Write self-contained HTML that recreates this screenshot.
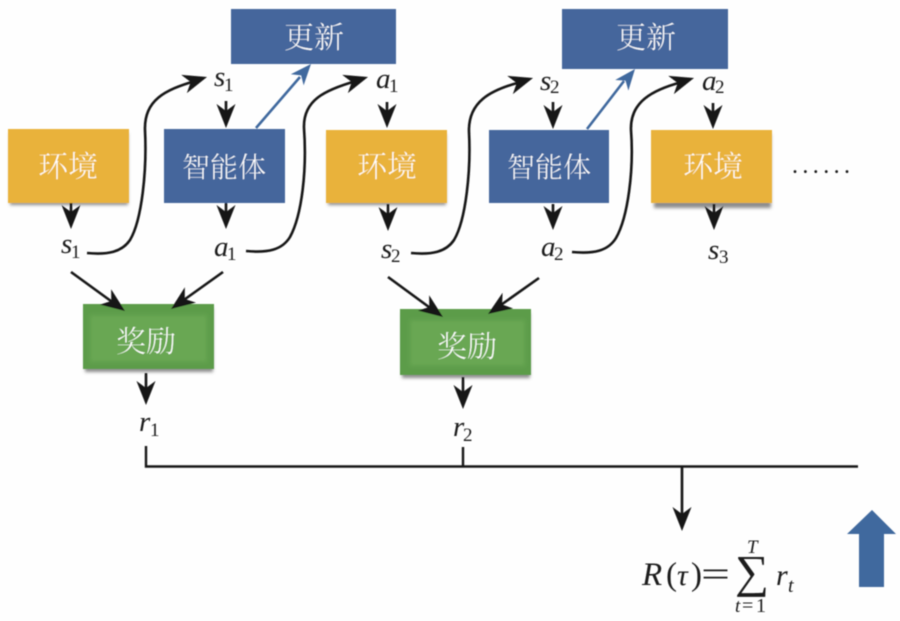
<!DOCTYPE html>
<html><head><meta charset="utf-8">
<style>
html,body{margin:0;padding:0;background:#fefefe;width:900px;height:621px;overflow:hidden}
svg{display:block}
text{font-family:"Liberation Serif","Times New Roman","DejaVu Serif",serif}
.c{font-family:"Noto Serif CJK SC","Noto Serif CJK JP","Liberation Serif",serif;font-weight:300;fill:#ffffff;text-anchor:middle;stroke-width:.2}
.m{font-family:"Liberation Serif","Times New Roman","DejaVu Serif",serif;font-style:italic;font-size:29px;fill:#1a1a1a}
.s{font-family:"Liberation Serif","Times New Roman","DejaVu Serif",serif;font-size:19px;fill:#1a1a1a}
.r{font-family:"Liberation Serif","Times New Roman","DejaVu Serif",serif;fill:#1a1a1a}
.k{stroke:#161616;stroke-width:2.6;fill:none}
.b{stroke:#41699e;stroke-width:2.6;fill:none}
</style></head>
<body>
<svg width="900" height="621" viewBox="0 0 900 621" xmlns="http://www.w3.org/2000/svg">
<defs>
<filter id="bl" x="-5%" y="-5%" width="110%" height="110%"><feGaussianBlur stdDeviation="0.5"/></filter>
<filter id="sh" x="-10%" y="-10%" width="120%" height="130%"><feGaussianBlur stdDeviation="1.6"/></filter>
<filter id="in" x="-20%" y="-20%" width="140%" height="140%"><feGaussianBlur stdDeviation="2"/></filter>
<polygon id="h" points="0,0 -24,-9.5 -17,0 -24,9.5" fill="#121212"/>
<polygon id="hb" points="0,0 -21,-8.5 -15,0 -21,8.5" fill="#41699e"/>
</defs>
<rect width="900" height="621" fill="#fefefe"/>
<g filter="url(#bl)">
<!-- shadows -->
<g fill="#8c8c8c" filter="url(#sh)">
<rect x="10" y="133" width="118" height="72"/>
<rect x="328" y="134" width="118" height="71"/>
<rect x="654" y="134" width="117" height="74"/>
<rect x="85" y="308" width="128" height="64"/>
<rect x="402" y="313" width="128" height="65"/>
</g>
<!-- boxes -->
<g fill="#e9b23b">
<rect x="8" y="129" width="121" height="74"/>
<rect x="326" y="130" width="121" height="73"/>
<rect x="651" y="130" width="121" height="73"/>
</g>
<g fill="#44669c">
<rect x="164" y="129" width="121" height="74"/>
<rect x="489" y="130" width="120" height="73"/>
<rect x="231" y="9" width="165" height="55"/>
<rect x="562" y="9" width="166" height="60"/>
</g>
<g fill="#5c9c4a">
<rect x="83" y="304" width="131" height="65"/>
<rect x="400" y="309" width="131" height="66"/>
</g>
<g fill="#69a753" filter="url(#in)">
<rect x="90" y="315" width="117" height="47"/>
<rect x="410" y="320" width="115" height="46"/>
</g>
<!-- box labels -->
<g font-size="30">
<text class="c" stroke="#e9b23b" x="68" y="177">环境</text>
<text class="c" stroke="#e9b23b" x="387" y="177">环境</text>
<text class="c" stroke="#e9b23b" x="713" y="177">环境</text>
<text class="c" stroke="#44669c" x="314" y="48">更新</text>
<text class="c" stroke="#44669c" x="646" y="48">更新</text>
<text class="c" stroke="#69a753" x="146" y="352">奖励</text>
<text class="c" stroke="#69a753" x="467" y="357">奖励</text>
</g>
<g font-size="28">
<text class="c" stroke="#44669c" x="224" y="177">智能体</text>
<text class="c" stroke="#44669c" x="549" y="177">智能体</text>
</g>
<!-- straight down arrows -->
<path class="k" d="M226 101V116M387 102V116M71 203V217M226 203V217M388 204V219M553 102V117M713 103V117M553 204V218M714 204V218M146 373V393M463 377V397M682 466V519"/>
<use href="#h" transform="translate(226,128) rotate(90)"/>
<use href="#h" transform="translate(387,128) rotate(90)"/>
<use href="#h" transform="translate(71,229) rotate(90)"/>
<use href="#h" transform="translate(226,229) rotate(90)"/>
<use href="#h" transform="translate(388,231) rotate(90)"/>
<use href="#h" transform="translate(553,129) rotate(90)"/>
<use href="#h" transform="translate(713,129) rotate(90)"/>
<use href="#h" transform="translate(553,230) rotate(90)"/>
<use href="#h" transform="translate(714,230) rotate(90)"/>
<use href="#h" transform="translate(146,405) rotate(90)"/>
<use href="#h" transform="translate(463,409) rotate(90)"/>
<use href="#h" transform="translate(682,531) rotate(90)"/>
<!-- curved -->
<path class="k" d="M87 253C108 255 122 252 130 240C142 220 147 170 145 130C144 100 165 90 195 81"/>
<use href="#h" transform="translate(207,77) rotate(-17)"/>
<path class="k" d="M246 251C268 253 282 250 290 237C302 215 307 170 304 128C303 100 325 90 356 81"/>
<use href="#h" transform="translate(368,77) rotate(-17)"/>
<path class="k" d="M411 253C432 255 446 252 454 240C466 220 471 170 469 132C468 102 490 90 521 82"/>
<use href="#h" transform="translate(533,78) rotate(-17)"/>
<path class="k" d="M572 252C594 254 608 251 616 238C628 217 634 170 631 130C630 102 652 90 682 82"/>
<use href="#h" transform="translate(694,78) rotate(-17)"/>
<!-- diagonals -->
<path class="k" d="M71 272L115 304M223 272L181 302M388 277L433 310M539 278L498 307"/>
<use href="#h" transform="translate(125,311) rotate(36)"/>
<use href="#h" transform="translate(171,309) rotate(144)"/>
<use href="#h" transform="translate(443,317) rotate(36)"/>
<use href="#h" transform="translate(488,314) rotate(146)"/>
<!-- blue -->
<path class="b" d="M256 128L300 77M587 129L624 81"/>
<use href="#hb" transform="translate(311,64) rotate(-49)"/>
<use href="#hb" transform="translate(635,69) rotate(-51)"/>
<!-- bracket -->
<path d="M146 446V466.5H858M463 447V466" fill="none" stroke="#161616" stroke-width="2.4"/>
<!-- big arrow -->
<polygon points="872,510 896,534 884,534 884,587 859,587 859,534 847,534" fill="#41699e"/>
<!-- math -->
<text class="m" x="214" y="86">s</text><text class="s" x="224" y="91">1</text>
<text class="m" x="376" y="88">a</text><text class="s" x="389" y="92">1</text>
<text class="m" x="61" y="253">s</text><text class="s" x="71" y="258">1</text>
<text class="m" x="214" y="256">a</text><text class="s" x="227" y="260">1</text>
<text class="m" x="381" y="258">s</text><text class="s" x="391" y="262">2</text>
<text class="m" x="540" y="90">s</text><text class="s" x="550" y="93">2</text>
<text class="m" x="702" y="90">a</text><text class="s" x="715" y="93">2</text>
<text class="m" x="541" y="256">a</text><text class="s" x="554" y="260">2</text>
<text class="m" x="708" y="259">s</text><text class="s" x="719" y="263">3</text>
<text class="m" x="139" y="431">r</text><text class="s" x="150" y="436">1</text>
<text class="m" x="453" y="436">r</text><text class="s" x="463" y="441">2</text>
<text class="r" x="792" y="173" font-size="24" textLength="58">......</text>
<text class="m" x="642" y="585" style="font-size:33px">R</text>
<text class="r" x="666" y="585" font-size="33">(</text>
<text class="m" x="677" y="585" style="font-size:30px">τ</text>
<text class="r" x="691" y="585" font-size="33">)</text>
<text class="r" x="701" y="586" font-size="36" textLength="29" lengthAdjust="spacingAndGlyphs">=</text>
<text class="r" x="735" y="587" font-size="46" textLength="34" lengthAdjust="spacingAndGlyphs">∑</text>
<text class="m" x="747" y="553" style="font-size:19px">T</text>
<text class="m" x="735" y="612" style="font-size:19px">t</text>
<text class="r" x="742" y="612" font-size="20">=</text>
<text class="r" x="756" y="612" font-size="20">1</text>
<text class="m" x="776" y="585" style="font-size:30px">r</text><text class="m" x="788" y="592" style="font-size:20px">t</text>
</g>
</svg>
</body></html>
